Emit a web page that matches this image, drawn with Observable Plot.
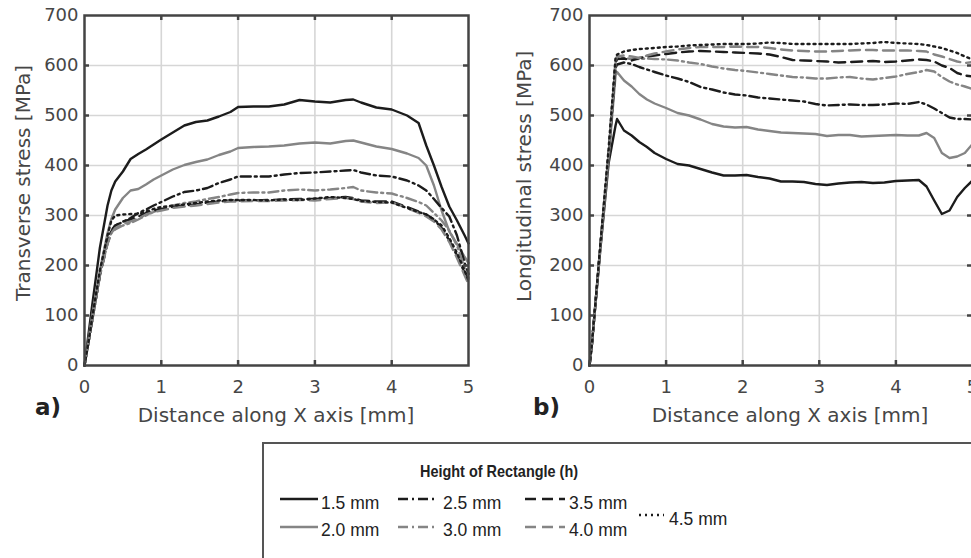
<!DOCTYPE html>
<html><head><meta charset="utf-8">
<script src="https://cdn.jsdelivr.net/npm/d3@7"></script>
<script src="https://cdn.jsdelivr.net/npm/@observablehq/plot@0.6"></script>
<style>
html,body{margin:0;padding:0;background:#fff;overflow:hidden;}
#root{position:relative;width:971px;height:558px;overflow:hidden;background:#fff;}
.panel{position:absolute;top:0;}
#legend{position:absolute;left:262px;top:442px;width:800px;height:200px;border:2px solid #555;box-sizing:border-box;}
.lg{position:absolute;font-family:"Liberation Sans",Arial,sans-serif;font-size:17.5px;color:#222;white-space:nowrap;line-height:1;}
.lgt{position:absolute;font-family:"Liberation Sans",Arial,sans-serif;font-weight:bold;font-size:16.5px;color:#222;white-space:nowrap;line-height:1;transform-origin:0 0;transform:scaleX(0.875);}
svg.sw{position:absolute;overflow:visible;}
#over{position:absolute;left:0;top:0;pointer-events:none;}
</style>
</head><body>
<div id="root"></div>
<script>
// ---------- data ----------
const xTicks = [0, 1, 2, 3, 4, 5];
const yTicks = [0, 100, 200, 300, 400, 500, 600, 700];
const seriesNames = ["1.5 mm", "2.0 mm", "2.5 mm", "3.0 mm", "3.5 mm", "4.0 mm", "4.5 mm"];

// a) Transverse stress — shared x positions [mm]
const xTrans = [0, 0.05, 0.1, 0.2, 0.3, 0.35, 0.4, 0.5, 0.6, 0.7, 0.8, 0.9, 1.0, 1.15, 1.3, 1.45, 1.6, 1.75, 1.9, 2.0, 2.2, 2.4, 2.6, 2.8, 3.0, 3.2, 3.4, 3.5, 3.6, 3.8, 4.0, 4.2, 4.35, 4.45, 4.55, 4.65, 4.75, 4.85, 4.95, 5.0];
const trans15 = [0, 60, 120, 235, 320, 350, 368, 388, 413, 423, 432, 442, 452, 466, 480, 487, 490, 498, 507, 517, 518, 518, 522, 531, 528, 526, 531, 532, 526, 516, 512, 500, 485, 440, 400, 357, 318, 290, 260, 244];
const trans20 = [0, 50, 100, 190, 265, 293, 312, 335, 350, 353, 362, 372, 380, 392, 401, 407, 412, 421, 428, 435, 437, 438, 440, 444, 446, 444, 449, 450, 446, 438, 433, 424, 415, 400, 360, 310, 268, 243, 217, 205];
const trans25 = [0, 45, 90, 180, 250, 270, 280, 287, 295, 305, 312, 320, 327, 338, 347, 350, 355, 365, 372, 378, 378, 378, 382, 385, 386, 388, 390, 391, 386, 380, 378, 370, 360, 350, 333, 315, 298, 260, 205, 183];
const trans30 = [0, 45, 90, 180, 245, 265, 272, 280, 285, 292, 300, 307, 313, 320, 325, 328, 333, 337, 342, 345, 346, 346, 350, 352, 350, 352, 355, 357, 350, 346, 344, 335, 327, 320, 305, 290, 270, 240, 195, 175];
const trans35 = [0, 45, 90, 180, 245, 268, 280, 288, 292, 298, 305, 310, 313, 317, 320, 322, 326, 328, 330, 330, 330, 331, 332, 333, 333, 335, 337, 335, 330, 328, 328, 317, 308, 302, 292, 275, 250, 220, 185, 168];
const trans40 = [0, 45, 90, 180, 243, 265, 275, 283, 288, 294, 302, 307, 310, 315, 318, 320, 323, 326, 328, 328, 329, 329, 330, 331, 330, 333, 335, 333, 328, 325, 326, 315, 305, 298, 288, 272, 247, 215, 180, 163];
const trans45 = [0, 45, 95, 190, 260, 290, 300, 302, 303, 303, 308, 313, 317, 320, 322, 325, 328, 330, 331, 331, 331, 330, 332, 331, 334, 337, 335, 333, 329, 327, 326, 315, 307, 302, 292, 280, 255, 225, 190, 170];

// b) Longitudinal stress — shared x positions [mm]
const xLong = [0, 0.03, 0.14, 0.25, 0.34, 0.36, 0.45, 0.55, 0.65, 0.75, 0.85, 1.0, 1.15, 1.3, 1.45, 1.6, 1.75, 1.9, 2.05, 2.2, 2.35, 2.5, 2.65, 2.8, 2.95, 3.1, 3.25, 3.4, 3.55, 3.7, 3.85, 4.0, 4.15, 4.3, 4.4, 4.5, 4.6, 4.7, 4.8, 4.9, 5.0];
const long15 = [0, 40, 230, 405, 480, 493, 470, 460, 447, 437, 425, 413, 403, 400, 393, 386, 380, 380, 381, 377, 374, 368, 368, 367, 363, 361, 364, 366, 367, 365, 366, 369, 370, 371, 358, 330, 303, 310, 337, 355, 370];
const long20 = [0, 40, 230, 415, 580, 587, 570, 558, 543, 532, 524, 515, 505, 500, 492, 483, 478, 476, 477, 472, 469, 466, 465, 464, 463, 459, 461, 461, 458, 459, 460, 461, 460, 460, 465, 455, 425, 415, 418, 425, 443];
const long25 = [0, 40, 235, 420, 595, 602, 606, 603, 597, 592, 587, 580, 574, 567, 557, 552, 546, 542, 540, 536, 534, 532, 530, 528, 523, 520, 521, 522, 521, 521, 522, 524, 523, 527, 522, 514, 505, 496, 493, 493, 492];
const long30 = [0, 40, 235, 425, 605, 615, 615, 613, 613, 614, 613, 612, 610, 606, 603, 598, 594, 591, 589, 586, 583, 580, 577, 576, 574, 574, 576, 577, 574, 572, 575, 578, 583, 587, 591, 588, 577, 568, 562, 558, 553];
const long35 = [0, 40, 235, 425, 605, 613, 614, 610, 615, 618, 620, 623, 626, 628, 629, 628, 627, 626, 625, 624, 622, 617, 611, 610, 609, 608, 606, 607, 608, 609, 607, 608, 610, 612, 611, 608, 600, 595, 585, 580, 578];
const long40 = [0, 40, 235, 425, 610, 618, 620, 618, 615, 620, 624, 628, 632, 635, 637, 637, 637, 638, 637, 637, 635, 632, 630, 629, 628, 628, 629, 630, 631, 631, 630, 630, 630, 629, 628, 622, 618, 613, 608, 605, 607];
const long45 = [0, 40, 240, 435, 615, 622, 628, 631, 633, 634, 635, 637, 638, 640, 641, 642, 643, 643, 643, 644, 646, 645, 643, 643, 643, 643, 643, 643, 644, 645, 647, 645, 644, 643, 641, 638, 635, 630, 625, 618, 612];

// ---------- styles ----------
const BLACK = "#1c1c1c", GRAY = "#858585";
const DASHDOT = "10,4,2,4", DASHED = "11,6", DOTTED = "2,4";
const styles = [
  {stroke: BLACK, dash: null},
  {stroke: GRAY, dash: null},
  {stroke: BLACK, dash: DASHDOT},
  {stroke: GRAY, dash: DASHDOT},
  {stroke: BLACK, dash: DASHED},
  {stroke: GRAY, dash: DASHED},
  {stroke: BLACK, dash: DOTTED}
];

function panel(xs, ys, opts) {
  const lines = ys.map((arr, i) => Plot.line(xs.map((x, j) => ({x, y: arr[j]})), {
    x: "x", y: "y", stroke: styles[i].stroke, strokeWidth: 2.4,
    strokeDasharray: styles[i].dash, strokeLinejoin: "round"
  }));
  const inner = xTicks.slice(1, -1), innerY = yTicks.slice(1, -1);
  return Plot.plot({
    width: opts.width, height: 440,
    marginLeft: opts.ml, marginRight: opts.mr, marginTop: 15, marginBottom: 75,
    x: {domain: [0, 5]}, y: {domain: [0, 700]},
    style: {fontFamily: "'DejaVu Sans', Verdana, sans-serif", fontSize: "18px", color: "#464646", background: "transparent", overflow: "visible"},
    marks: [
      Plot.gridX(inner, {stroke: "#d6d6d6", strokeOpacity: 1, strokeWidth: 1.6}),
      Plot.gridY(innerY, {stroke: "#d6d6d6", strokeOpacity: 1, strokeWidth: 1.6}),
      ...lines,
      Plot.ruleX(inner, {y1: 0, y2: 10, stroke: "#444", strokeWidth: 2.5}),
      Plot.ruleX(inner, {y1: 690, y2: 700, stroke: "#444", strokeWidth: 2.5}),
      Plot.ruleY(innerY, {x1: 0, x2: 0.065, stroke: "#444", strokeWidth: 2.5}),
      Plot.ruleY(innerY, {x1: 4.935, x2: 5, stroke: "#444", strokeWidth: 2.5}),
      Plot.axisX({ticks: xTicks, tickFormat: d3.format("d"), tickSize: 0, tickPadding: 15, label: null}),
      Plot.axisY({ticks: yTicks, tickFormat: d3.format("d"), tickSize: 0, tickPadding: 6, label: null}),
      Plot.frame({stroke: "#444", strokeWidth: 2.5})
    ]
  });
}

const root = document.getElementById("root");
const left = panel(xTrans, [trans15, trans20, trans25, trans30, trans35, trans40, trans45], {width: 485, ml: 84, mr: 17});
left.classList.add("panel"); left.style.left = "0px";
root.appendChild(left);
const right = panel(xLong, [long15, long20, long25, long30, long35, long40, long45], {width: 497, ml: 104, mr: 10});
right.classList.add("panel"); right.style.left = "485px";
root.appendChild(right);

// ---------- titles overlay ----------
const NS = "http://www.w3.org/2000/svg";
const over = document.createElementNS(NS, "svg");
over.setAttribute("id", "over"); over.setAttribute("width", 971); over.setAttribute("height", 558);
function txt(s, attrs) {
  const t = document.createElementNS(NS, "text");
  for (const k in attrs) t.setAttribute(k, attrs[k]);
  t.textContent = s; over.appendChild(t); return t;
}
const F = "'DejaVu Sans', Verdana, sans-serif";
txt("Distance along X axis [mm]", {x: 276, y: 422, "text-anchor": "middle", "font-family": F, "font-size": 20, fill: "#464646"});
txt("Distance along X axis [mm]", {x: 790, y: 422, "text-anchor": "middle", "font-family": F, "font-size": 20, fill: "#464646"});
txt("Transverse stress [MPa]", {transform: "translate(30,301) rotate(-90)", "font-family": F, "font-size": 20, fill: "#464646"});
txt("Longitudinal stress [MPa]", {transform: "translate(531,302) rotate(-90)", "font-family": F, "font-size": 20, fill: "#464646"});
txt("a)", {x: 35, y: 415, "font-family": F, "font-size": 23, "font-weight": "bold", fill: "#222"});
txt("b)", {x: 533, y: 415, "font-family": F, "font-size": 23, "font-weight": "bold", fill: "#222"});
root.appendChild(over);

// ---------- legend ----------
const lg = document.createElement("div"); lg.id = "legend"; root.appendChild(lg);
const title = document.createElement("div"); title.className = "lgt";
title.textContent = "Height of Rectangle (h)";
title.style.left = "420px"; title.style.top = "463px";
root.appendChild(title);
const legendPos = [
  {lx: 280, lw: 38, ly: 499, tx: 321, ty: 495},
  {lx: 280, lw: 38, ly: 527, tx: 321, ty: 522},
  {lx: 398, lw: 40, ly: 499, tx: 443, ty: 495},
  {lx: 398, lw: 40, ly: 527, tx: 443, ty: 522},
  {lx: 525, lw: 40, ly: 499, tx: 569, ty: 495},
  {lx: 525, lw: 40, ly: 527, tx: 569, ty: 522},
  {lx: 639, lw: 25, ly: 515, tx: 669, ty: 511}
];
seriesNames.forEach((name, i) => {
  const p = legendPos[i];
  const sw = document.createElementNS(NS, "svg");
  sw.setAttribute("class", "sw"); sw.setAttribute("width", p.lw); sw.setAttribute("height", 4);
  sw.style.left = p.lx + "px"; sw.style.top = (p.ly - 2) + "px";
  const ln = document.createElementNS(NS, "line");
  ln.setAttribute("x1", 0); ln.setAttribute("x2", p.lw); ln.setAttribute("y1", 2); ln.setAttribute("y2", 2);
  ln.setAttribute("stroke", styles[i].stroke); ln.setAttribute("stroke-width", 2.4);
  if (styles[i].dash) ln.setAttribute("stroke-dasharray", styles[i].dash);
  sw.appendChild(ln); root.appendChild(sw);
  const t = document.createElement("div"); t.className = "lg"; t.textContent = name;
  t.style.left = p.tx + "px"; t.style.top = p.ty + "px";
  root.appendChild(t);
});
</script>
</body></html>
